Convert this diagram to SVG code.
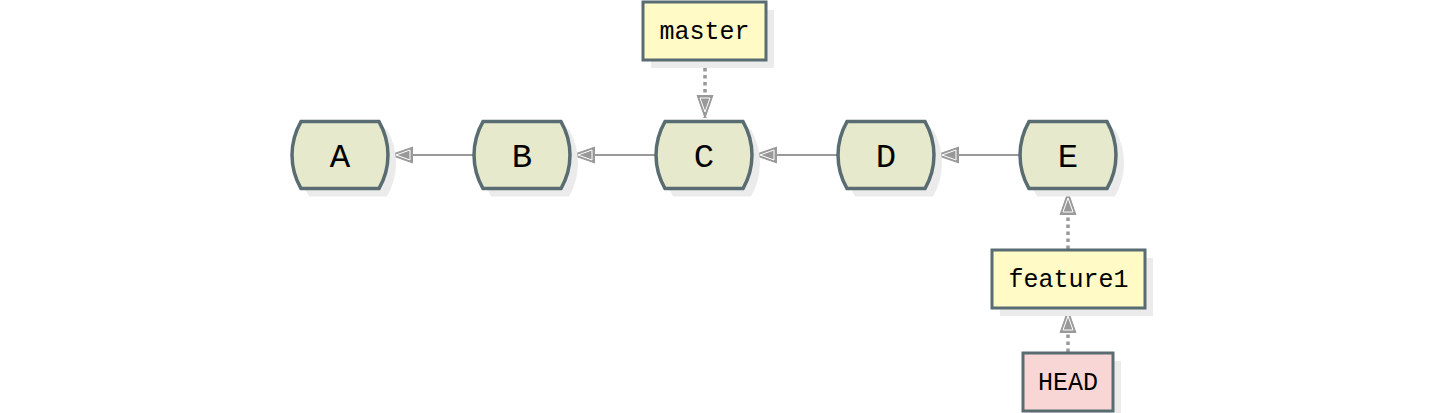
<svg xmlns="http://www.w3.org/2000/svg" width="1432" height="413" viewBox="0 0 1432 413">
<style>
.node{fill:#e6e9cb;stroke:#586c72;stroke-width:3.5}
.shadow{fill:#ebebeb}
.lbl{fill:#fffac6;stroke:#586c72;stroke-width:3}
.head{fill:#f8d6d6;stroke:#586c72;stroke-width:3}
.edge{stroke:#999;stroke-width:2.2;fill:none}
.dot{stroke:#999;stroke-width:3.5;fill:none;stroke-dasharray:3.5 3.5}
.t{font-family:"Liberation Mono","DejaVu Sans Mono",monospace;fill:#000;text-anchor:middle}
.nt{font-size:34px}
.lt{font-size:25px}
</style>
<defs>
<marker id="arr" markerUnits="userSpaceOnUse" markerWidth="26" markerHeight="20" refX="23" refY="9" orient="auto" viewBox="0 0 26 18">
<path d="M23,9 L0,1 L0,17 Z" fill="#999" stroke="#999" stroke-width="1" stroke-linejoin="miter"/>
<path d="M17,9 L3,4 L3,14 Z" fill="none" stroke="#fff" stroke-width="1"/>
</marker>
<path id="hex" d="M-39,-33.5 L39,-33.5 A67,67 0 0 1 39,33.5 L-39,33.5 A67,67 0 0 1 -39,-33.5 Z"/>
</defs>
<g id="connectors">
<line class="edge" x1="474" y1="155" x2="390" y2="155" marker-end="url(#arr)"/>
<line class="edge" x1="656" y1="155" x2="572" y2="155" marker-end="url(#arr)"/>
<line class="edge" x1="838" y1="155" x2="754" y2="155" marker-end="url(#arr)"/>
<line class="edge" x1="1020" y1="155" x2="936" y2="155" marker-end="url(#arr)"/>
<line class="dot" x1="705" y1="61" x2="705" y2="118" marker-end="url(#arr)"/>
<line class="dot" x1="1068" y1="249" x2="1068" y2="192" marker-end="url(#arr)"/>
<line class="dot" x1="1068" y1="352" x2="1068" y2="310" marker-end="url(#arr)"/>
</g>
<g id="node-A">
<use href="#hex" class="shadow" x="348" y="163"/>
<use href="#hex" class="node" x="340" y="155"/>
<text class="t nt" x="340" y="167">A</text>
</g>
<g id="node-B">
<use href="#hex" class="shadow" x="530" y="163"/>
<use href="#hex" class="node" x="522" y="155"/>
<text class="t nt" x="522" y="167">B</text>
</g>
<g id="node-C">
<use href="#hex" class="shadow" x="712" y="163"/>
<use href="#hex" class="node" x="704" y="155"/>
<text class="t nt" x="704" y="167">C</text>
</g>
<g id="node-D">
<use href="#hex" class="shadow" x="894" y="163"/>
<use href="#hex" class="node" x="886" y="155"/>
<text class="t nt" x="886" y="167">D</text>
</g>
<g id="node-E">
<use href="#hex" class="shadow" x="1076" y="163"/>
<use href="#hex" class="node" x="1068" y="155"/>
<text class="t nt" x="1068" y="167">E</text>
</g>
<g id="label-master">
<rect class="shadow" x="651" y="10" width="123" height="58"/>
<rect class="lbl" x="643" y="2" width="123" height="58"/>
<text class="t lt" x="704.5" y="39">master</text>
</g>
<g id="label-feature1">
<rect class="shadow" x="1000" y="258" width="153" height="58"/>
<rect class="lbl" x="992" y="250" width="153" height="58"/>
<text class="t lt" x="1068.5" y="287">feature1</text>
</g>
<g id="label-HEAD">
<rect class="shadow" x="1031" y="361" width="90" height="58"/>
<rect class="head" x="1023" y="353" width="90" height="58"/>
<text class="t lt" x="1068" y="390">HEAD</text>
</g>
</svg>
